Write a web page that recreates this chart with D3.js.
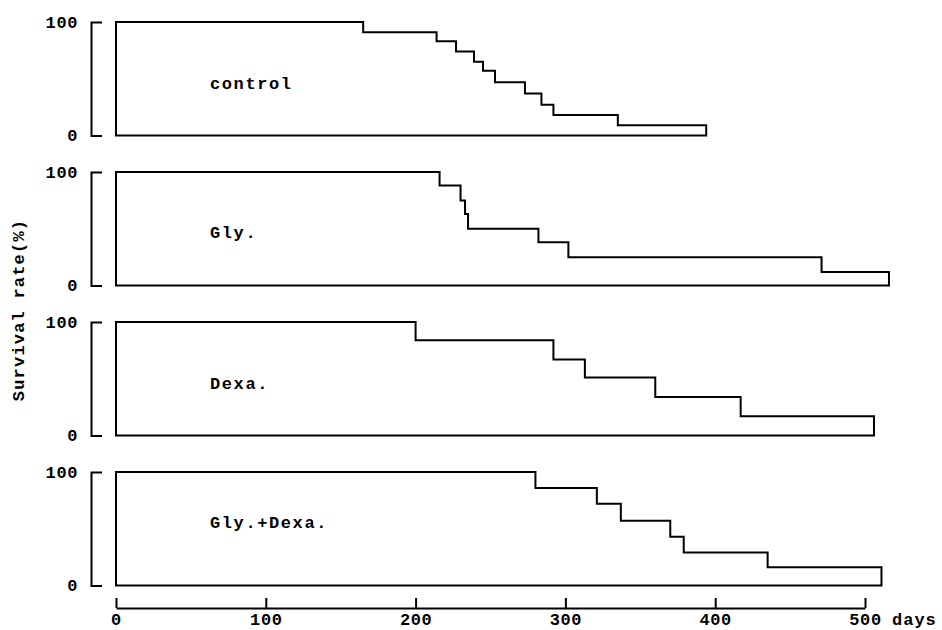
<!DOCTYPE html>
<html>
<head>
<meta charset="utf-8">
<script src="https://cdn.jsdelivr.net/npm/d3@7"></script>
<style>
    body { margin: 0; background: #fff; }
    text { font-family: "Liberation Mono", "DejaVu Sans Mono", monospace; font-weight: bold; fill: #000; }
</style>
</head>
<body>
<div id="chart"></div>
<script>
// Survival data (days, % surviving after each step)
var groupNames = ["control", "Gly.", "Dexa.", "Gly.+Dexa."];

var controlDays = [165, 214, 227, 239, 245, 253, 273, 284, 292, 335, 394];
var controlSurv = [91, 83, 74, 65, 57, 47, 37, 27, 18, 9, 0];

var glyDays = [216, 230, 233, 235, 282, 302, 471, 516];
var glySurv = [88, 75, 63, 50, 38, 25, 12, 0];

var dexaDays = [200, 292, 313, 360, 417, 506];
var dexaSurv = [84, 67, 51, 34, 17, 0];

var glyDexaDays = [280, 321, 337, 370, 379, 435, 511];
var glyDexaSurv = [86, 72, 57, 43, 29, 16, 0];

var xTicks = [0, 100, 200, 300, 400, 500];
var yTicks = [0, 100];

var groupDays = [controlDays, glyDays, dexaDays, glyDexaDays];
var groupSurv = [controlSurv, glySurv, dexaSurv, glyDexaSurv];

// Layout
var width = 942, height = 630;
var panelTop = 22, panelStep = 150, panelHeight = 113.5;
var labelOffset = [61, 60, 61, 50];

var svg = d3.select("#chart").append("svg")
    .attr("width", width)
    .attr("height", height);

var x = d3.scaleLinear().domain([0, 500]).range([116, 865]);

function drawPanel(i) {
    var py = panelTop + i * panelStep;
    var y = d3.scaleLinear().domain([0, 100]).range([py + panelHeight, py]);

    // bracket axis with the 0 / 100 labels
    var yAxis = d3.axisLeft(y)
        .tickValues(yTicks)
        .tickSizeInner(0)
        .tickSizeOuter(-11)
        .tickPadding(13);

    var g = svg.append("g")
        .attr("transform", "translate(91,0)")
        .call(yAxis);
    g.select(".domain").attr("stroke", "#000").attr("stroke-width", 2);
    g.selectAll(".tick text")
        .attr("font-size", 17)
        .attr("letter-spacing", 0.6)
        .attr("font-family", null);

    // closed step curve: up from (0,0), down the steps, back along the bottom
    var pts = [[0, 0], [0, 100]];
    for (var j = 0; j < groupDays[i].length; j++) {
        pts.push([groupDays[i][j], groupSurv[i][j]]);
    }
    pts.push([0, 0]);

    var line = d3.line()
        .x(function(d) { return x(d[0]); })
        .y(function(d) { return y(d[1]); })
        .curve(d3.curveStepAfter);

    svg.append("path")
        .attr("d", line(pts) + "Z")
        .attr("fill", "none")
        .attr("stroke", "#000")
        .attr("stroke-width", 2)
        .attr("stroke-linejoin", "miter");

    svg.append("text")
        .attr("x", 210)
        .attr("y", py + labelOffset[i])
        .attr("dy", "0.35em")
        .attr("font-size", 17)
        .attr("letter-spacing", 1.6)
        .text(groupNames[i]);
}

for (var i = 0; i < groupNames.length; i++) {
    drawPanel(i);
}

// x axis with ticks pointing up
var xAxis = d3.axisBottom(x)
    .tickValues(xTicks)
    .tickSizeInner(-10)
    .tickSizeOuter(0)
    .tickPadding(5);

var gx = svg.append("g")
    .attr("transform", "translate(0,608)")
    .call(xAxis);
gx.select(".domain").attr("stroke", "#000").attr("stroke-width", 2);
gx.selectAll(".tick line").attr("stroke", "#000").attr("stroke-width", 2);
gx.selectAll(".tick text")
    .attr("font-size", 17)
    .attr("letter-spacing", 0.6)
    .attr("font-family", null);

svg.append("text")
    .attr("x", 892)
    .attr("y", 625)
    .attr("font-size", 17)
    .attr("letter-spacing", 1)
    .text("days");

// y title
svg.append("text")
    .attr("transform", "translate(24,310) rotate(-90)")
    .attr("text-anchor", "middle")
    .attr("font-size", 17)
    .attr("letter-spacing", 1.2)
    .text("Survival rate(%)");
</script>
</body>
</html>
